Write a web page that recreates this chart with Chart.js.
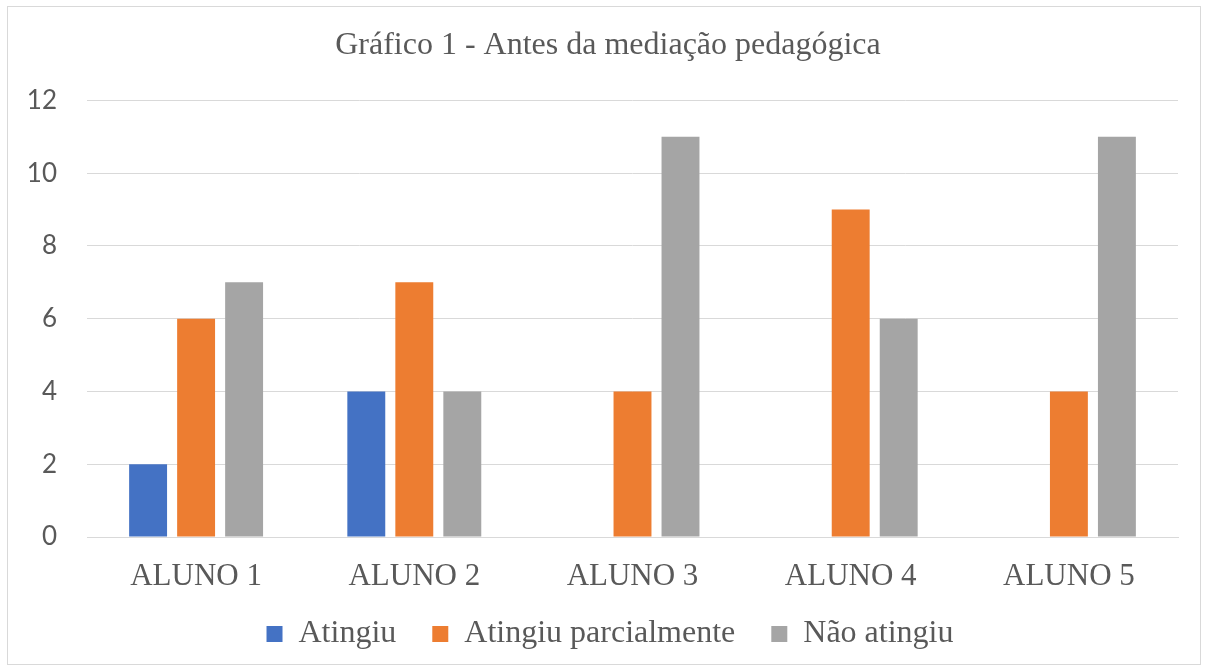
<!DOCTYPE html>
<html>
<head>
<meta charset="utf-8">
<script src="https://cdn.jsdelivr.net/npm/chart.js@4"></script>
<style>
  html, body { margin: 0; padding: 0; background: #fff; }
  #frame {
    position: absolute; left: 7px; top: 6px;
    width: 1192px; height: 657px;
    border: 1px solid #d9d9d9;
  }
</style>
</head>
<body>
<div id="frame"><canvas id="chart" width="1192" height="657"></canvas></div>
<script>
const alunos = ['ALUNO 1', 'ALUNO 2', 'ALUNO 3', 'ALUNO 4', 'ALUNO 5'];
const atingiu = [2, 4, 0, 0, 0];
const parcialmente = [6, 7, 4, 9, 4];
const naoAtingiu = [7, 4, 11, 6, 11];

const serif = '"Liberation Serif", "Times New Roman", serif';
const textGray = '#595959';

// title and legend sit a bit right of the plot centre in the original,
// and the legend row is tucked up closer to the axis labels
const nudgeBlocks = {
    id: 'nudgeBlocks',
    afterLayout(chart) {
        chart.titleBlock.left += 15;
        chart.titleBlock.right += 15;
        chart.legend.left += 17;
        chart.legend.right += 17;
        chart.legend.top -= 13;
        chart.legend.bottom -= 13;
    }
};

new Chart(document.getElementById('chart'), {
    type: 'bar',
    data: {
        labels: alunos,
        datasets: [
            { label: 'Atingiu', data: atingiu, backgroundColor: '#4472C4' },
            { label: 'Atingiu parcialmente', data: parcialmente, backgroundColor: '#ED7D31' },
            { label: 'Não atingiu', data: naoAtingiu, backgroundColor: '#A5A5A5' }
        ]
    },
    options: {
        responsive: false,
        animation: false,
        categoryPercentage: 0.66,
        barPercentage: 0.79,
        layout: { padding: { left: 0, right: 22, bottom: 0 } },
        plugins: {
            title: {
                display: true,
                text: 'Gráfico 1 - Antes da mediação pedagógica',
                color: textGray,
                font: { family: serif, size: 32, weight: 'normal' },
                padding: { top: 19, bottom: 36 }
            },
            legend: {
                position: 'bottom',
                maxHeight: 69,
                labels: {
                    color: textGray,
                    font: { family: serif, size: 32 },
                    boxWidth: 16,
                    boxHeight: 16,
                    padding: 36
                }
            },
            tooltip: { enabled: false }
        },
        scales: {
            x: {
                grid: { display: false },
                border: { color: '#d9d9d9' },
                ticks: {
                    color: textGray,
                    font: { family: serif, size: 31 },
                    padding: 13
                },
                afterFit: (scale) => { scale.height = 58; }
            },
            y: {
                min: 0,
                max: 12,
                ticks: {
                    stepSize: 2,
                    color: textGray,
                    font: { family: 'Lato, "Open Sans", sans-serif', size: 26 },
                    padding: 30
                },
                grid: { color: '#d9d9d9', drawTicks: false },
                border: { display: false },
                afterFit: (scale) => { scale.width = 79; }
            }
        }
    },
    plugins: [nudgeBlocks]
});
</script>
</body>
</html>
